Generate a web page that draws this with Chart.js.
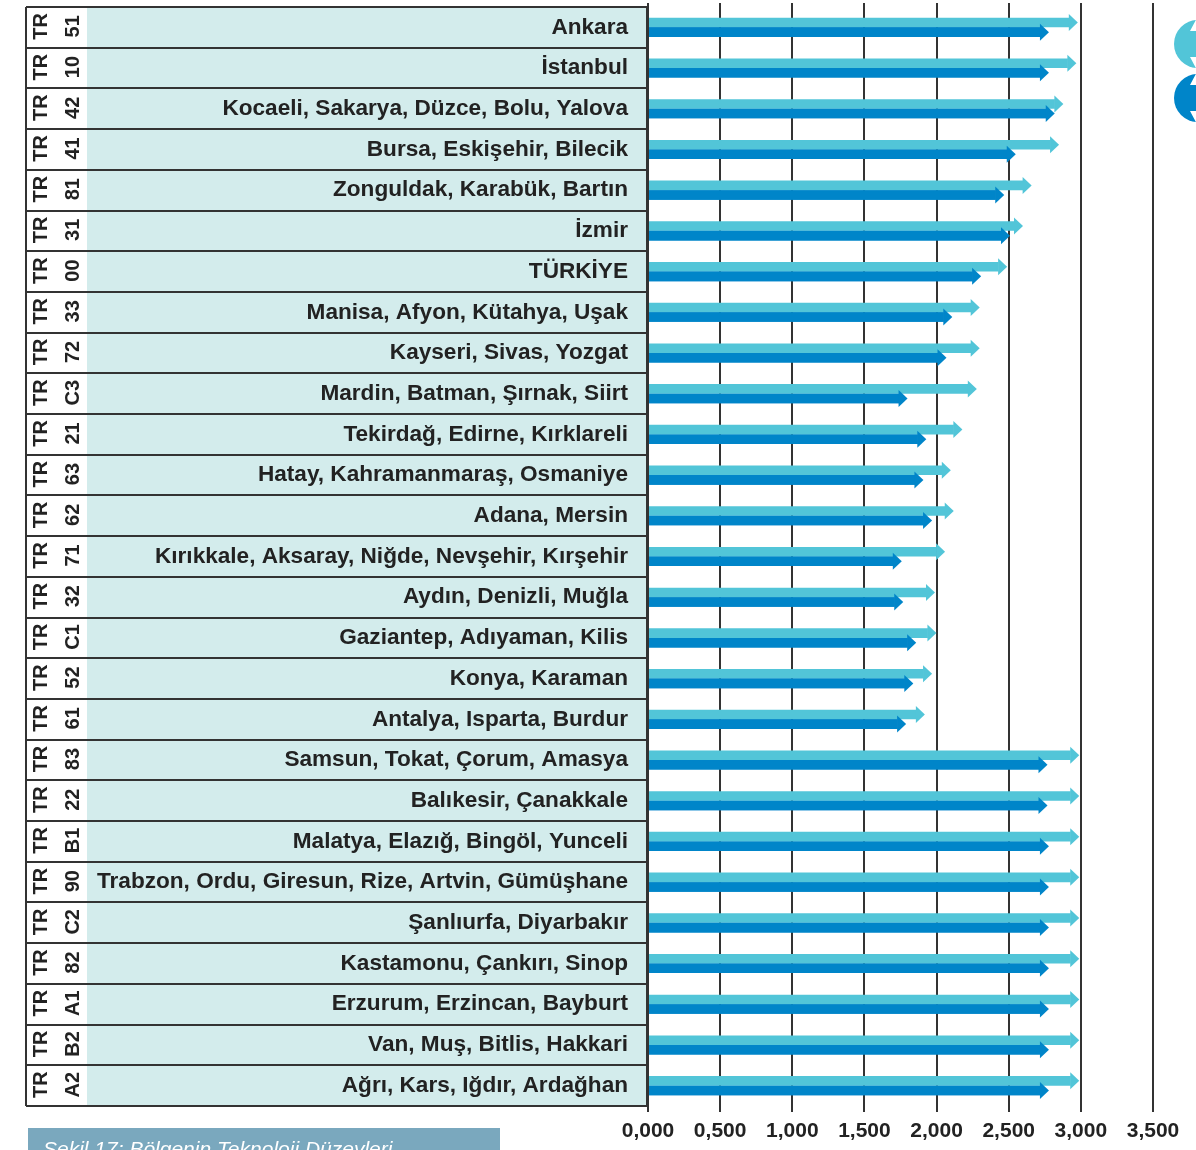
<!DOCTYPE html>
<html>
<head>
<meta charset="utf-8">
<script src="https://cdn.jsdelivr.net/npm/chart.js@4.4.1/dist/chart.umd.min.js"></script>
<style>
  html, body { margin: 0; padding: 0; background: #fff; }
  #wrap { width: 1196px; height: 1150px; position: relative; overflow: hidden; }
</style>
</head>
<body>
<div id="wrap"><canvas id="techChart" width="1196" height="1150"></canvas></div>
<script>
// Region codes (NUTS-2) and names, top to bottom
const regionCodes = ['51', '10', '42', '41', '81', '31', '00', '33', '72', 'C3', '21', '63', '62', '71',
    '32', 'C1', '52', '61', '83', '22', 'B1', '90', 'C2', '82', 'A1', 'B2', 'A2'];

const regionNames = [
    'Ankara',
    'İstanbul',
    'Kocaeli, Sakarya, Düzce, Bolu, Yalova',
    'Bursa, Eskişehir, Bilecik',
    'Zonguldak, Karabük, Bartın',
    'İzmir',
    'TÜRKİYE',
    'Manisa, Afyon, Kütahya, Uşak',
    'Kayseri, Sivas, Yozgat',
    'Mardin, Batman, Şırnak, Siirt',
    'Tekirdağ, Edirne, Kırklareli',
    'Hatay, Kahramanmaraş, Osmaniye',
    'Adana, Mersin',
    'Kırıkkale, Aksaray, Niğde, Nevşehir, Kırşehir',
    'Aydın, Denizli, Muğla',
    'Gaziantep, Adıyaman, Kilis',
    'Konya, Karaman',
    'Antalya, Isparta, Burdur',
    'Samsun, Tokat, Çorum, Amasya',
    'Balıkesir, Çanakkale',
    'Malatya, Elazığ, Bingöl, Yunceli',
    'Trabzon, Ordu, Giresun, Rize, Artvin, Gümüşhane',
    'Şanlıurfa, Diyarbakır',
    'Kastamonu, Çankırı, Sinop',
    'Erzurum, Erzincan, Bayburt',
    'Van, Muş, Bitlis, Hakkari',
    'Ağrı, Kars, Iğdır, Ardağhan'
];

// light (upper) arrows
const seriesLight = [2.92, 2.91, 2.82, 2.79, 2.60, 2.54, 2.43, 2.24, 2.24, 2.22, 2.12, 2.04, 2.06, 2.00,
    1.93, 1.94, 1.91, 1.86, 2.93, 2.93, 2.93, 2.93, 2.93, 2.93, 2.93, 2.93, 2.93];

// dark (lower) arrows
const seriesDark = [2.72, 2.72, 2.76, 2.49, 2.41, 2.45, 2.25, 2.05, 2.01, 1.74, 1.87, 1.85, 1.91, 1.70,
    1.71, 1.80, 1.78, 1.73, 2.71, 2.71, 2.72, 2.72, 2.72, 2.72, 2.72, 2.72, 2.72];

const xTickLabels = ['0,000', '0,500', '1,000', '1,500', '2,000', '2,500', '3,000', '3,500'];

const captionText = 'Şekil 17: Bölgenin Teknoloji Düzeyleri';

const LIGHT = '#52c5d8';
const DARK = '#0085c9';
const LINE = '#333333';
const TEAL = '#d3ecec';

// table behind the y labels: code column + teal name column + row borders
const tablePlugin = {
    id: 'regionTable',
    beforeDraw(chart) {
        const ctx = chart.ctx;
        const area = chart.chartArea;
        const yScale = chart.scales.y;
        const n = regionNames.length;
        const rowH = (area.bottom - area.top) / n;
        const left = 26, codeRight = 87, right = area.left - 1;

        ctx.save();
        ctx.fillStyle = '#ffffff';
        ctx.fillRect(left, area.top, codeRight - left, area.bottom - area.top);
        ctx.fillStyle = TEAL;
        ctx.fillRect(codeRight, area.top, right - codeRight, area.bottom - area.top);

        ctx.strokeStyle = LINE;
        ctx.lineWidth = 2;
        ctx.beginPath();
        for (let i = 0; i <= n; i++) {
            const yy = Math.round(area.top + i * rowH);
            ctx.moveTo(left, yy);
            ctx.lineTo(right, yy);
        }
        ctx.moveTo(left, area.top);
        ctx.lineTo(left, area.bottom);
        ctx.moveTo(right, area.top);
        ctx.lineTo(right, area.bottom);
        ctx.stroke();

        // short extension of the x grid above the table top
        chart.scales.x.ticks.forEach(t => {
            const gx = Math.round(chart.scales.x.getPixelForValue(t.value));
            ctx.beginPath();
            ctx.moveTo(gx, area.top - 4);
            ctx.lineTo(gx, area.top);
            ctx.stroke();
        });

        // rotated codes
        ctx.fillStyle = '#222';
        ctx.font = 'bold 20px "Liberation Sans", Arial, sans-serif';
        ctx.textAlign = 'center';
        ctx.textBaseline = 'middle';
        regionCodes.forEach((code, i) => {
            const cy = yScale.getPixelForValue(i) - 1;
            [['TR', 40], [code, 72]].forEach(([txt, cx]) => {
                ctx.save();
                ctx.translate(cx, cy);
                ctx.rotate(-Math.PI / 2);
                ctx.fillText(txt, 0, 1);
                ctx.restore();
            });
        });
        ctx.restore();
    },
    afterDraw(chart) {
        const ctx = chart.ctx;
        ctx.save();
        // caption strip at the bottom (cut by the page edge)
        ctx.fillStyle = '#7aa8be';
        ctx.fillRect(28, 1128, 472, 30);
        ctx.fillStyle = '#ffffff';
        ctx.font = 'italic 21px "Liberation Sans", Arial, sans-serif';
        ctx.textAlign = 'left';
        ctx.textBaseline = 'alphabetic';
        ctx.fillText(captionText, 43, 1156);

        // legend markers, cut by the right edge
        [[LIGHT, 44], [DARK, 98]].forEach(([col, cy]) => {
            const cx = 1198;
            ctx.fillStyle = col;
            ctx.beginPath();
            ctx.arc(cx, cy, 24, 0, Math.PI * 2);
            ctx.fill();
            ctx.fillStyle = '#ffffff';
            ctx.beginPath();
            ctx.moveTo(cx - 1, cy - 26);
            ctx.lineTo(cx - 8, cy - 13);
            ctx.lineTo(cx - 2, cy - 13);
            ctx.lineTo(cx - 2, cy + 13);
            ctx.lineTo(cx - 8, cy + 13);
            ctx.lineTo(cx - 1, cy + 26);
            ctx.lineTo(cx + 6, cy + 26);
            ctx.lineTo(cx + 6, cy - 26);
            ctx.closePath();
            ctx.fill();
        });
        ctx.restore();
    }
};

// arrowheads on the end of each bar; dark row goes over the light one
const arrowPlugin = {
    id: 'arrowHeads',
    afterDatasetsDraw(chart) {
        const ctx = chart.ctx;
        const heads = (meta, col) => {
            ctx.fillStyle = col;
            meta.data.forEach(bar => {
                const x = bar.x, y = bar.y;
                ctx.beginPath();
                ctx.moveTo(x - 0.5, y - 8.5);
                ctx.lineTo(x + 8.5, y);
                ctx.lineTo(x - 0.5, y + 8.5);
                ctx.closePath();
                ctx.fill();
            });
        };
        const lightMeta = chart.getDatasetMeta(0);
        const darkMeta = chart.getDatasetMeta(1);
        ctx.save();
        heads(lightMeta, LIGHT);
        darkMeta.data.forEach(bar => bar.draw(ctx, chart.chartArea));
        heads(darkMeta, DARK);
        ctx.restore();
    }
};

const ctx = document.getElementById('techChart').getContext('2d');
new Chart(ctx, {
    type: 'bar',
    data: {
        labels: regionNames,
        datasets: [
            {
                label: 'light',
                data: seriesLight,
                backgroundColor: LIGHT,
                borderWidth: 0,
                categoryPercentage: 0.47,
                barPercentage: 1
            },
            {
                label: 'dark',
                data: seriesDark,
                backgroundColor: DARK,
                borderWidth: 0,
                categoryPercentage: 0.47,
                barPercentage: 1
            }
        ]
    },
    options: {
        indexAxis: 'y',
        responsive: false,
        animation: false,
        devicePixelRatio: 1,
        layout: {
            padding: { left: 26, right: 43, top: 7, bottom: 0 }
        },
        scales: {
            x: {
                min: 0,
                max: 3.5,
                afterFit: (scale) => {
                    scale.height = 44;
                    scale.paddingLeft = 0;
                    scale.paddingRight = 0;
                },
                afterBuildTicks: (scale) => {
                    scale.ticks = xTickLabels.map((t, i) => ({ value: i * 0.5 }));
                },
                grid: {
                    color: LINE,
                    lineWidth: 2,
                    drawTicks: true,
                    tickLength: 6
                },
                border: { display: false },
                ticks: {
                    color: '#222',
                    padding: 7,
                    maxRotation: 0,
                    font: { family: '"Liberation Sans Narrow", "Liberation Sans", Arial, sans-serif', size: 21, weight: 'bold' },
                    callback: (value, index) => xTickLabels[index]
                }
            },
            y: {
                afterFit: (scale) => {
                    scale.width = 622;
                    scale.paddingTop = 0;
                    scale.paddingBottom = 0;
                },
                grid: { display: false, drawTicks: false },
                border: { display: false },
                ticks: {
                    color: '#222',
                    padding: 20,
                    autoSkip: false,
                    font: { family: '"Liberation Sans", Arial, sans-serif', size: 22.6, weight: 'bold' }
                }
            }
        },
        plugins: {
            legend: { display: false },
            tooltip: { enabled: false }
        }
    },
    plugins: [tablePlugin, arrowPlugin]
});
</script>
</body>
</html>
